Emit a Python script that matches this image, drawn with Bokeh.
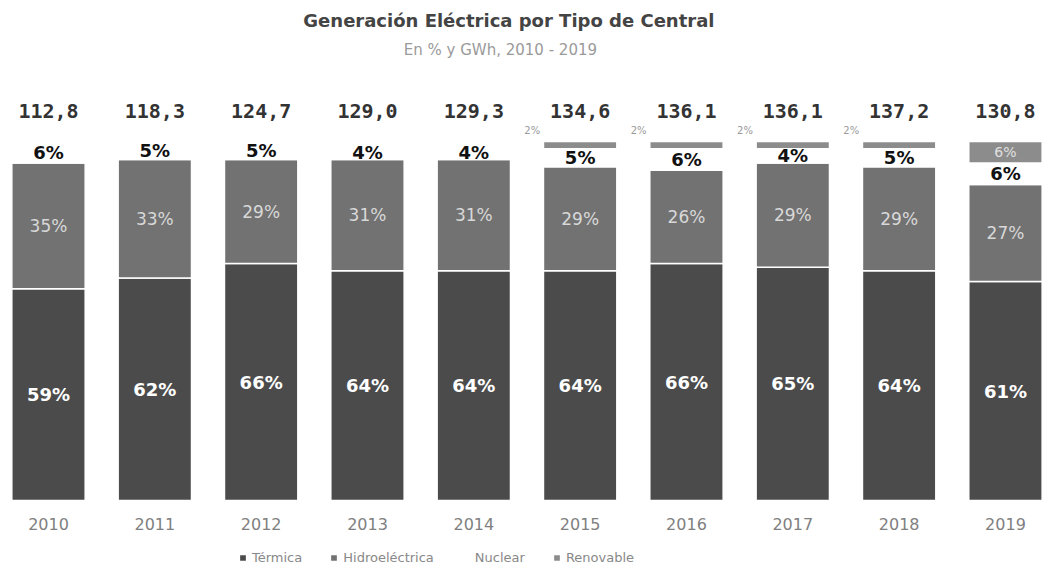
from bokeh.plotting import figure
from bokeh.models import ColumnDataSource, Range1d, FixedTicker, Legend, LegendItem, LinearAxis
from bokeh.core.properties import value
from bokeh.embed import file_html
from bokeh.resources import INLINE

years = ["2010", "2011", "2012", "2013", "2014", "2015", "2016", "2017", "2018", "2019"]
totals = [112.8, 118.3, 124.7, 129.0, 129.3, 134.6, 136.1, 136.1, 137.2, 130.8]
termica = [59, 62, 66, 64, 64, 64, 66, 65, 64, 61]
hidro = [35, 33, 29, 31, 31, 29, 26, 29, 29, 27]
nuclear = [6, 5, 5, 4, 4, 5, 6, 4, 5, 6]
renovable = [0, 0, 0, 0, 0, 2, 2, 2, 2, 6]
series_names = ["Térmica", "Hidroeléctrica", "Nuclear", "Renovable"]
colors = ["#4b4b4b", "#727272", "#ffffff", "#8c8c8c"]

FONT = "DejaVu Sans"
xs = list(range(len(years)))

src = ColumnDataSource(dict(x=xs, termica=termica, hidro=hidro, nuclear=nuclear, renovable=renovable))

p = figure(width=1047, height=566, x_range=Range1d(-0.4514, 9.3953), y_range=Range1d(-18.38, 139.28),
           output_backend="svg", toolbar_location=None, y_axis_location=None, x_axis_location=None,
           min_border_left=0, min_border_right=0, min_border_top=0, min_border_bottom=0)
p.outline_line_color = None
p.xgrid.visible = False
p.ygrid.visible = False
p.background_fill_color = "white"

rs = p.vbar_stack(["termica", "hidro", "nuclear", "renovable"], x="x", width=0.69, source=src,
                  fill_color=colors, line_color="white", line_width=1.5)

ax = LinearAxis(fixed_location=0)
ax.ticker = FixedTicker(ticks=xs)
ax.major_label_overrides = {i: y for i, y in enumerate(years)}
ax.axis_line_color = None
ax.major_tick_line_color = None
ax.minor_tick_line_color = None
ax.major_tick_out = 0
ax.major_tick_in = 0
ax.major_label_standoff = 17
ax.major_label_text_font = FONT
ax.major_label_text_font_size = "16px"
ax.major_label_text_color = "#808080"
p.add_layout(ax, "below")

def pct(v):
    return f"{v}%"

# Térmica labels
t_src = ColumnDataSource(dict(x=xs, y=[t / 2 for t in termica], t=[pct(v) for v in termica]))
p.text("x", "y", "t", source=t_src, text_align="center", text_baseline="middle",
       text_font=value(FONT), text_font_size="18px", text_font_style="bold", text_color="white")
# Hidro labels
h_src = ColumnDataSource(dict(x=xs, y=[t + h / 2 for t, h in zip(termica, hidro)], t=[pct(v) for v in hidro]))
p.text("x", "y", "t", source=h_src, text_align="center", text_baseline="middle",
       text_font=value(FONT), text_font_size="17px", text_color="#d8d8d8")
# Nuclear labels
n_src = ColumnDataSource(dict(x=xs, y=[t + h + n / 2 for t, h, n in zip(termica, hidro, nuclear)],
                              t=[pct(v) for v in nuclear]))
p.text("x", "y", "t", source=n_src, text_align="center", text_baseline="middle",
       text_font=value(FONT), text_font_size="18px", text_font_style="bold", text_color="#111111")
# Renovable labels
ri_x, ri_y, ri_t, rs_x, rs_y, rs_t = [], [], [], [], [], []
for i, (t, h, n, r) in enumerate(zip(termica, hidro, nuclear, renovable)):
    if r <= 0:
        continue
    base = t + h + n
    if r >= 4:
        ri_x.append(i); ri_y.append(base + r / 2); ri_t.append(pct(r))
    else:
        rs_x.append(i - 0.45); rs_y.append(base + r + 3); rs_t.append(pct(r))
p.text(ri_x, ri_y, ri_t, text_align="center", text_baseline="middle",
       text_font=value(FONT), text_font_size="14px", text_color="#e0e0e0")
p.text(rs_x, rs_y, rs_t, text_align="center", text_baseline="middle",
       text_font=value(FONT), text_font_size="10px", text_color="#9a9a9a")

# totals
tot_src = ColumnDataSource(dict(x=xs, y=[108.6] * len(xs), t=[f"{v:.1f}".replace(".", ",") for v in totals]))
p.text("x", "y", "t", source=tot_src, text_align="center", text_baseline="middle",
       text_font=value("DejaVu Sans Mono"), text_font_size="20px", text_font_style="bold", text_color="#333333")

# title and subtitle
p.text([4.33], [133.7], ["Generación Eléctrica por Tipo de Central"], text_align="center", text_baseline="middle",
       text_font=value(FONT), text_font_size="18px", text_font_style="bold", text_color="#444444")
p.text([4.25], [125.6], ["En % y GWh, 2010 - 2019"], text_align="center", text_baseline="middle",
       text_font=value(FONT), text_font_size="15px", text_color="#9a9a9a")

legend = Legend(items=[LegendItem(label=n, renderers=[r]) for n, r in zip(series_names, rs)],
                orientation="horizontal", location=(238, 1), padding=0, margin=0, spacing=27,
                glyph_width=9, glyph_height=9, label_standoff=5,
                label_text_font=FONT, label_text_font_size="13px", label_text_color="#888888",
                border_line_color=None, background_fill_alpha=0)
p.add_layout(legend, "center")

open("out.html", "w").write(file_html(p, INLINE))
